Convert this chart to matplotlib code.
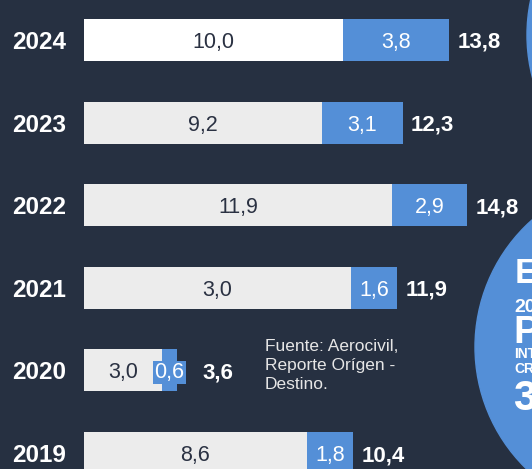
import matplotlib
matplotlib.use("Agg")
import matplotlib.pyplot as plt
from matplotlib.patches import Circle
from matplotlib.transforms import blended_transform_factory

plt.rcParams['font.family'] = ['Liberation Sans', 'DejaVu Sans']

# data (millions of passengers)
years = ['2024', '2023', '2022', '2021', '2020', '2019']
domestic = [10.0, 9.2, 11.9, 10.3, 3.0, 8.6]      # drawn length of the light segment
international = [4.1, 3.1, 2.9, 1.8, 0.6, 1.8]    # drawn length of the blue segment
domestic_labels = ['10,0', '9,2', '11,9', '3,0', '3,0', '8,6']
international_labels = ['3,8', '3,1', '2,9', '1,6', '0,6', '1,8']
total_labels = ['13,8', '12,3', '14,8', '11,9', '3,6', '10,4']

BG = '#263041'
BLUE = '#548fd7'
LIGHT = '#ececec'
DARK = '#2a3142'

W, H = 532, 469
fig = plt.figure(figsize=(W / 100, H / 100), dpi=100)
fig.patch.set_facecolor(BG)

# overlay axes in pixel units for decoration
deco = fig.add_axes([0, 0, 1, 1])
deco.set_xlim(0, W)
deco.set_ylim(H, 0)
deco.axis('off')
deco.patch.set_alpha(0)
deco.add_patch(Circle((645, 347), 170, color=BLUE, zorder=1))
deco.add_patch(Circle((697, 35), 170, color=BLUE, zorder=1))

circle_lines = [('EN', 515, 283, 25), ('2024', 514, 312, 14), ('PASAJEROS', 513, 343, 28),
                ('INTERNACIONALES', 514, 358, 10), ('CRECIERON', 514, 373, 10), ('35%', 513, 410, 30)]
for txt, x, y, fs in circle_lines:
    deco.text(x, y, txt, color='white', fontsize=fs, fontweight='bold', ha='left', va='baseline',
              clip_on=True, zorder=2)

deco.text(265, 339, 'Fuente: Aerocivil,\nReporte Orígen -\nDestino.', color='#e6e6e6',
          fontsize=12.5, ha='left', va='top', linespacing=1.35, zorder=2)

# bar axes
px_per_unit = 25.9
ax = fig.add_axes([84 / W, 0, (W - 84) / W, 1])
ax.patch.set_alpha(0)
ax.set_xlim(0, (W - 84) / px_per_unit)
step = 82.6
ax.set_ylim((H - 40) / step, -40 / step)
ax.axis('off')

pos = list(range(len(years)))
colors = ['white'] + [LIGHT] * (len(years) - 1)
ax.barh(pos, domestic, height=0.508, color=colors, zorder=3)
ax.barh(pos, international, left=domestic, height=0.508, color=BLUE, zorder=3)

yr_tr = blended_transform_factory(fig.transFigure, ax.transData)
for i, yr in enumerate(years):
    ax.text(39 / W, i, yr, transform=yr_tr, color='white', fontsize=17.5, fontweight='bold',
            ha='center', va='center_baseline')
    ax.text(domestic[i] / 2, i, domestic_labels[i], color=DARK, fontsize=15.5,
            ha='center', va='center_baseline', zorder=4)
    end = domestic[i] + international[i]
    gap = 6
    bb = None
    if international[i] < 1:
        # label wider than its segment: highlight it and push the total further out
        bb = dict(boxstyle='square,pad=0.05', facecolor=BLUE, edgecolor='none')
        end = domestic[i] + international[i] / 2 + 16 / px_per_unit
        gap = 12
    ax.text(domestic[i] + international[i] / 2, i, international_labels[i], color='white',
            fontsize=15.5, ha='center', va='center_baseline', zorder=5, bbox=bb)
    ax.annotate(total_labels[i], (end, i), xytext=(gap, 0),
                textcoords='offset points', color='white', fontsize=16, fontweight='bold',
                ha='left', va='center_baseline', zorder=4)

fig.savefig('out.png', dpi=100, facecolor=BG)
